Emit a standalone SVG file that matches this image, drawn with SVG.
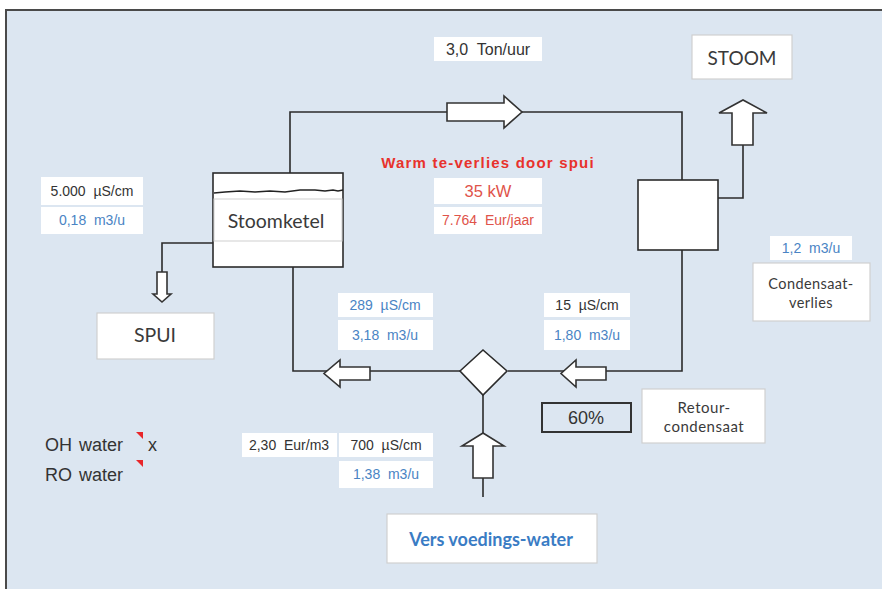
<svg xmlns="http://www.w3.org/2000/svg" width="882" height="589" viewBox="0 0 882 589">
<style>
.ln{fill:none;stroke:#2b2b2b;stroke-width:1.6}
.arr{fill:#fff;stroke:#333;stroke-width:1.6;stroke-linejoin:miter}
.wb{fill:#fff;stroke:none}
.lb{fill:#fff;stroke:#d0d0d0;stroke-width:1.2}
.v{font-family:"Liberation Sans",Arial,sans-serif;font-size:14px;text-anchor:middle}
.k{fill:#333}
.b{fill:#4a84c4}
.c{font-family:Lato,"Open Sans",sans-serif;fill:#3a3a3a;text-anchor:middle}
.ow{font-family:"Liberation Sans",Arial,sans-serif;font-size:18px;fill:#333}
</style>
<rect x="0" y="0" width="882" height="589" fill="#fff"/>
<rect x="6" y="10" width="890" height="600" fill="#dce6f1" stroke="#4a4a4a" stroke-width="2"/>

<g id="connectors">
  <polyline class="ln" points="290,173 290,112 682,112 682,180"/>
  <polyline class="ln" points="682,250 682,371 508,371"/>
  <polyline class="ln" points="460,371 293,371 293,267"/>
  <polyline class="ln" points="483,395 483,497"/>
  <polyline class="ln" points="215,243 162,243 162,272"/>
  <polyline class="ln" points="716,198 743,198 743,145"/>
  <polygon class="arr" points="447,103 504,103 504,96 522,112 504,128 504,121 447,121"/>
  <polygon class="arr" points="732,145 732,113 719,113 743,100 767,113 753,113 753,145"/>
  <polygon class="arr" points="157,272 167,272 167,294 171,294 162,302 153,294 157,294"/>
  <polygon class="arr" points="370,367 340,367 340,360 324,373.5 340,387 340,380 370,380"/>
  <polygon class="arr" points="606,367 576,367 576,360 561,373.5 576,387 576,380 606,380"/>
  <polygon class="arr" points="473,478 473,446 462,446 483,433 504,446 493,446 493,478"/>
</g>

<g id="ton">
  <rect class="wb" x="434" y="37" width="108" height="24"/>
  <text class="v k" x="488" y="55" style="font-size:16px">3,0&#160; Ton/uur</text>
</g>

<g id="stoom">
  <rect class="lb" x="692" y="35" width="100" height="44"/>
  <text class="c" x="742" y="65" style="font-size:19px">STOOM</text>
</g>

<g id="stoomketel">
  <rect x="213" y="173" width="130" height="94" fill="#fff" stroke="#2b2b2b" stroke-width="1.6"/>
  <rect x="214" y="199" width="128" height="42" fill="#fff" stroke="#cfcfcf" stroke-width="1"/>
  <path d="M214,193 L225,192 L240,191 L255,192 L270,191 L285,192 L300,190 L315,190 L325,191 L333,190 L338,191 L343,190" fill="none" stroke="#222" stroke-width="1.3"/>
  <text class="c" x="276" y="228" style="font-size:19.5px">Stoomketel</text>
</g>

<g id="spui-values">
  <rect class="wb" x="41" y="177" width="102" height="28"/>
  <text class="v k" x="92" y="196">5.000&#160; µS/cm</text>
  <rect class="wb" x="41" y="207" width="102" height="27"/>
  <text class="v b" x="92" y="225">0,18&#160; m3/u</text>
</g>

<g id="spui">
  <rect class="lb" x="97" y="313" width="117" height="46"/>
  <text class="c" x="155" y="342" style="font-size:19.5px">SPUI</text>
</g>

<g id="warmte">
  <text x="488" y="168" font-family="'Liberation Sans',Arial,sans-serif" font-size="15" font-weight="bold" fill="#e8322c" text-anchor="middle" letter-spacing="1.2">Warm te-verlies door spui</text>
  <rect class="wb" x="434" y="178" width="108" height="26"/>
  <text class="v" x="488" y="197" fill="#e0534a" style="font-size:16.5px">35 kW</text>
  <rect class="wb" x="434" y="207" width="108" height="27"/>
  <text class="v" x="488" y="225" fill="#e0534a">7.764&#160; Eur/jaar</text>
</g>

<g id="condensor">
  <rect x="638" y="180" width="80" height="70" fill="#fff" stroke="#2b2b2b" stroke-width="1.6"/>
</g>

<g id="verlies">
  <rect class="wb" x="770" y="236" width="82" height="24"/>
  <text class="v b" x="811" y="253">1,2&#160; m3/u</text>
  <rect class="lb" x="753" y="263" width="117" height="58"/>
  <text class="c" x="811" y="289" style="font-size:14.5px;letter-spacing:0.4px">Condensaat-</text>
  <text class="c" x="811" y="308" style="font-size:14.5px;letter-spacing:0.4px">verlies</text>
</g>

<g id="mix-values">
  <rect class="wb" x="338" y="293" width="95" height="24"/>
  <text class="v b" x="385" y="310">289&#160; µS/cm</text>
  <rect class="wb" x="338" y="320" width="95" height="30"/>
  <text class="v b" x="385" y="340">3,18&#160; m3/u</text>
</g>

<g id="retour-values">
  <rect class="wb" x="544" y="293" width="86" height="24"/>
  <text class="v k" x="587" y="310">15&#160; µS/cm</text>
  <rect class="wb" x="544" y="320" width="86" height="30"/>
  <text class="v b" x="587" y="340">1,80&#160; m3/u</text>
</g>

<g id="menger">
  <polygon points="460,371 483,350 507,371 483,395" fill="#fff" stroke="#2b2b2b" stroke-width="1.6"/>
</g>

<g id="percentage">
  <rect x="542" y="403" width="89" height="29" fill="#dce6f1" stroke="#333" stroke-width="2"/>
  <text class="v" x="586" y="424" fill="#333" style="font-size:18px">60%</text>
</g>

<g id="retour">
  <rect class="lb" x="642" y="389" width="123" height="54"/>
  <text class="c" x="704" y="413" style="font-size:15px;letter-spacing:0.5px">Retour-</text>
  <text class="c" x="704" y="432" style="font-size:15px;letter-spacing:0.5px">condensaat</text>
</g>

<g id="vers-values">
  <rect class="wb" x="242" y="433" width="95" height="24"/>
  <text class="v k" x="289" y="450">2,30&#160; Eur/m3</text>
  <rect class="wb" x="339" y="433" width="94" height="24"/>
  <text class="v k" x="386" y="450">700&#160; µS/cm</text>
  <rect class="wb" x="339" y="461" width="94" height="27"/>
  <text class="v b" x="386" y="479">1,38&#160; m3/u</text>
</g>

<g id="watertype">
  <text class="ow" x="45" y="451" word-spacing="2">OH water</text>
  <polygon points="136,432 143,432 143,439" fill="#e8262a"/>
  <text class="ow" x="148" y="451">x</text>
  <text class="ow" x="45" y="481" word-spacing="2">RO water</text>
  <polygon points="136,460 143,460 143,467" fill="#e8262a"/>
</g>

<g id="vers">
  <rect class="lb" x="387" y="514" width="210" height="49"/>
  <text x="491" y="546" font-family="Lato,'Open Sans',sans-serif" font-size="18" font-weight="bold" fill="#3a7cc4" text-anchor="middle">Vers voedings-water</text>
</g>
</svg>
